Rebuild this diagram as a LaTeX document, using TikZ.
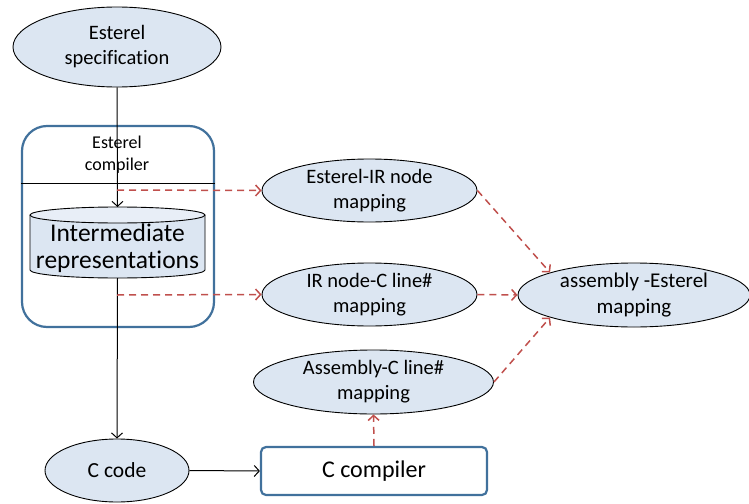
\documentclass[tikz,border=0pt]{standalone}
\usepackage{fontspec}
\setmainfont{Carlito}[Ligatures=NoCommon]
\usetikzlibrary{shapes.geometric,arrows.meta}
\definecolor{ellfill}{HTML}{DCE6F2}
\definecolor{cyltop}{HTML}{E8EEF7}
\definecolor{boxblue}{HTML}{41719C}
\definecolor{dashred}{HTML}{C0504D}
\tikzset{
  ell/.style={ellipse, draw=black, line width=0.9pt, fill=ellfill, inner sep=0pt, align=center,
    font=\fontsize{20.5}{25}\selectfont},
  bluebox/.style={draw=boxblue, line width=2.2pt, fill=white},
  blackarrow/.style={draw=black, line width=1pt, -{Straight Barb[length=5pt,width=11pt]}},
  redarrow/.style={draw=dashred, line width=1.5pt, dash pattern=on 7pt off 5pt, -{Straight Barb[length=5pt,width=11pt]}},
}
\begin{document}
\begin{tikzpicture}[x=1pt,y=-1pt]
\useasboundingbox (0,0) rectangle (749,503);
% Esterel compiler box
\node[bluebox, rounded corners=25pt, minimum width=192pt, minimum height=201pt, inner sep=0pt] (comp) at (118,226.5) {};
\draw[line width=1pt] (comp.west |- 0,183) -- (comp.east |- 0,183);
\node[align=center, font=\fontsize{18}{22}\selectfont] (comptext) at (117,155) {Esterel\\compiler};
% cylinder
\fill[ellfill] (30,215) -- (30,270) arc[start angle=180, end angle=360, x radius=87.5pt, y radius=8pt] -- (205,215) arc[start angle=0, end angle=180, x radius=87.5pt, y radius=8pt] -- cycle;
\draw[line width=0.9pt] (30,215) -- (30,270) arc[start angle=180, end angle=360, x radius=87.5pt, y radius=8pt] -- (205,215);
\draw[line width=0.9pt, fill=cyltop] (117.5,215) ellipse[x radius=87.5pt, y radius=8pt];
\node[inner sep=0pt, minimum width=175pt, minimum height=71pt, align=center, font=\fontsize{25.5}{27.5}\selectfont] (ir) at (117.5,248) {Intermediate\\representations};
\coordinate (irtop) at (117.5,207);
\coordinate (irbot) at (117.5,278);
% ellipses
\node[ell, minimum width=208pt, minimum height=80pt] (spec) at (117,47) {Esterel\\specification};
\node[ell, minimum width=215pt, minimum height=63pt] (esir) at (369.5,190.5) {Esterel-IR node\\mapping};
\node[ell, minimum width=215pt, minimum height=63pt] (irc) at (369.5,294.5) {IR node-C line\#\\mapping};
\node[ell, minimum width=232pt, minimum height=64pt, font=\fontsize{21}{25.5}\selectfont] (asm) at (634,295) {assembly -Esterel\\mapping};
\node[ell, minimum width=240pt, minimum height=64pt] (asmc) at (373.5,382) {Assembly-C line\#\\mapping};
\node[ell, minimum width=144pt, minimum height=63pt, font=\fontsize{21.5}{26}\selectfont] (ccode) at (117,470.5) {C code};
\node[bluebox, rounded corners=5pt, minimum width=226pt, minimum height=48pt, font=\fontsize{24}{29}\selectfont] (ccomp) at (374,471) {C compiler};
% black connectors
\draw[blackarrow] (spec.south) -- (irtop);
\draw[blackarrow] (irbot) -- (ccode.north);
\draw[blackarrow] (ccode.east) -- (ccomp.west);
% red dashed connectors
\coordinate (d1) at (117,190);
\coordinate (d2) at (117,295);
\draw[redarrow] (d1) -- (esir.west);
\draw[redarrow] (d2) -- (irc.west);
\draw[redarrow] (esir.east) -- (asm.165);
\draw[redarrow] (irc.east) -- (asm.west);
\draw[redarrow] (asmc.east) -- (asm.195);
\draw[redarrow] (ccomp.north) -- (asmc.south);
\end{tikzpicture}
\end{document}
